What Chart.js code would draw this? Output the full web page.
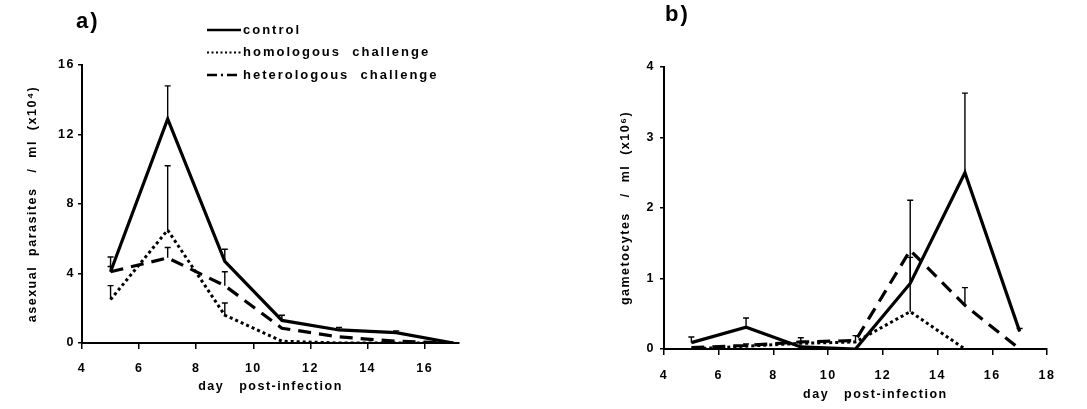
<!DOCTYPE html>
<html lang="en">
<head>
  <meta charset="UTF-8" />
  <title>Parasites and gametocytes after challenge</title>
  <style>
    body {
      margin: 0;
      background: #fff;
      font-family: "Liberation Sans", Arial, sans-serif;
    }
    #wrap {
      position: relative;
      width: 1087px;
      height: 409px;
    }
    .panel {
      position: absolute;
      top: 0;
      height: 409px;
    }
    .tag {
      position: absolute;
      font-weight: bold;
      font-size: 22px;
      letter-spacing: 2px;
    }
  </style>
  <script src="https://cdn.jsdelivr.net/npm/chart.js"></script>
</head>
<body>
  <div id="wrap">
    <div class="panel" style="left:0;width:540px"><canvas id="chartA" width="540" height="409"></canvas></div>
    <div class="panel" style="left:540px;width:547px"><canvas id="chartB" width="547" height="409"></canvas></div>
    <div class="tag" style="left:76px;top:8px">a)</div>
    <div class="tag" style="left:665px;top:1px">b)</div>
  </div>

  <script>
    const days = [5, 7, 9, 11, 13, 15, 17];
    const seriesNames = ["control", "homologous  challenge", "heterologous  challenge"];

    // a) asexual parasites / ml (x10^4)
    const asexControl = [4.1, 12.9, 4.7, 1.3, 0.75, 0.6, 0];
    const asexControlErr = [4.95, 14.8, 5.4, 1.6, 0.9, 0.7, null];
    const asexHomol = [2.5, 6.5, 1.6, 0.1, 0, 0, 0];
    const asexHomolErr = [3.3, 10.2, 2.3, null, null, null, null];
    const asexHeter = [4.1, 4.9, 3.3, 0.85, 0.35, 0.1, 0];
    const asexHeterErr = [4.4, 5.5, 4.1, null, null, null, null];
    const asexTicks = [0, 4, 8, 12, 16];

    // b) gametocytes / ml (x10^6)
    const gamControl = [0.09, 0.31, 0.03, 0, 0.93, 2.5, 0.25];
    const gamControlErr = [0.17, 0.44, null, null, 2.11, 3.63, 0.29];
    const gamHomol = [0, 0.04, 0.08, 0.1, 0.53, 0, null];
    const gamHomolErr = [null, 0.07, 0.16, 0.19, 1.3, null, null];
    const gamHeter = [0.02, 0.05, 0.1, 0.12, 1.4, 0.62, 0];
    const gamHeterErr = [null, null, null, null, null, 0.87, null];
    const gamTicks = [0, 1, 2, 3, 4];

    Chart.defaults.font.family = '"Liberation Sans", Arial, sans-serif';
    Chart.defaults.font.weight = 'bold';
    Chart.defaults.font.size = 12;
    Chart.defaults.color = '#000';

    function pts(vals) {
      return days.map((d, i) => ({ x: d, y: vals[i] }));
    }

    function makeSets(c, ce, ho, hoe, he, hee) {
      return [
        { label: seriesNames[0], data: pts(c), err: ce, borderColor: '#000', borderWidth: 3.2,
          borderDash: [], legendDash: [] },
        { label: seriesNames[1], data: pts(ho), err: hoe, borderColor: '#000', borderWidth: 3,
          borderDash: [3, 3], legendDash: [2, 2.5] },
        { label: seriesNames[2], data: pts(he), err: hee, borderColor: '#000', borderWidth: 3.2,
          borderDash: [13, 8], legendDash: [10, 4, 2, 4] }
      ];
    }

    // spaced lettering like the scanned figure
    const spacing = {
      id: 'spacing',
      beforeDraw(chart) { chart.ctx.letterSpacing = '1.5px'; }
    };

    const errorBars = {
      id: 'errorBars',
      afterDatasetsDraw(chart) {
        const ctx = chart.ctx;
        const xs = chart.scales.x, ys = chart.scales.y;
        ctx.save();
        ctx.strokeStyle = '#000';
        ctx.lineWidth = 1.4;
        chart.data.datasets.forEach(ds => {
          ds.err.forEach((hi, i) => {
            if (hi == null || ds.data[i].y == null) return;
            const px = xs.getPixelForValue(ds.data[i].x);
            const y0 = ys.getPixelForValue(ds.data[i].y);
            const y1 = ys.getPixelForValue(hi);
            ctx.beginPath();
            ctx.moveTo(px, y0);
            ctx.lineTo(px, y1);
            ctx.moveTo(px - 3, y1);
            ctx.lineTo(px + 3, y1);
            ctx.stroke();
          });
        });
        ctx.restore();
      }
    };

    const legendLines = {
      id: 'legendLines',
      afterDraw(chart, args, opts) {
        if (!opts.show) return;
        const ctx = chart.ctx;
        ctx.save();
        ctx.letterSpacing = '2px';
        ctx.font = 'bold 13px "Liberation Sans", Arial, sans-serif';
        ctx.fillStyle = '#000';
        ctx.textBaseline = 'middle';
        chart.data.datasets.forEach((ds, i) => {
          const y = opts.top + i * opts.gap;
          ctx.strokeStyle = '#000';
          ctx.lineWidth = i === 1 ? 1.8 : 2.6;
          ctx.setLineDash(ds.legendDash);
          ctx.beginPath();
          ctx.moveTo(opts.left, y);
          ctx.lineTo(opts.left + 34, y);
          ctx.stroke();
          ctx.fillText(ds.label, opts.left + 36, y);
        });
        ctx.restore();
      }
    };

    function makeChart(id, sets, cfg) {
      return new Chart(document.getElementById(id), {
        type: 'line',
        data: { datasets: sets },
        plugins: [spacing, errorBars, legendLines],
        options: {
          responsive: false,
          animation: false,
          layout: { padding: cfg.pad },
          elements: {
            line: { tension: 0, fill: false },
            point: { radius: 0 }
          },
          plugins: {
            legend: { display: false },
            tooltip: { enabled: false },
            legendLines: cfg.legend
          },
          scales: {
            x: {
              type: 'linear',
              min: 4,
              max: cfg.xMax,
              afterFit: s => { s.height = cfg.xH; },
              border: { display: true, color: '#000', width: 2 },
              grid: { drawOnChartArea: false, color: '#000', lineWidth: 1.5, tickLength: 6 },
              ticks: { stepSize: 2, includeBounds: false, padding: cfg.xPad, maxRotation: 0,
                       font: { size: 12.5 }, callback: v => v },
              title: { display: true, text: cfg.xTitle, padding: 0, font: { size: 12.5, weight: 'bold' } }
            },
            y: {
              min: 0,
              max: cfg.yTicks[cfg.yTicks.length - 1],
              afterFit: s => { s.width = cfg.yW; },
              afterBuildTicks: s => { s.ticks = cfg.yTicks.map(v => ({ value: v })); },
              border: { display: true, color: '#000', width: 2 },
              grid: { drawOnChartArea: false, color: '#000', lineWidth: 1.5, tickLength: 4 },
              ticks: { padding: cfg.yPad, font: { size: 12.5 } },
              title: { display: true, text: cfg.yTitle, padding: { top: cfg.yTitlePad, bottom: 0 },
                       font: { size: 12.5, weight: 'bold' } }
            }
          }
        }
      });
    }

    makeChart('chartA',
      makeSets(asexControl, asexControlErr, asexHomol, asexHomolErr, asexHeter, asexHeterErr),
      {
        pad: { left: 0, top: 65, right: 81, bottom: 15 },
        xMax: 17.2, xH: 51, xPad: 12, yW: 82, yPad: 3, yTitlePad: 25,
        yTicks: asexTicks,
        xTitle: 'day   post-infection',
        yTitle: 'asexual  parasites   /  ml  (x10\u2074)',
        legend: { show: true, left: 207, top: 30, gap: 22.5 }
      });

    makeChart('chartB',
      makeSets(gamControl, gamControlErr, gamHomol, gamHomolErr, gamHeter, gamHeterErr),
      {
        pad: { left: 0, top: 67, right: 40, bottom: 7 },
        xMax: 18, xH: 53, xPad: 13, yW: 124, yPad: 5, yTitlePad: 78,
        yTicks: gamTicks,
        xTitle: '        day   post-infection',
        yTitle: 'gametocytes   /  ml  (x10\u2076)',
        legend: { show: false }
      });
  </script>
</body>
</html>
